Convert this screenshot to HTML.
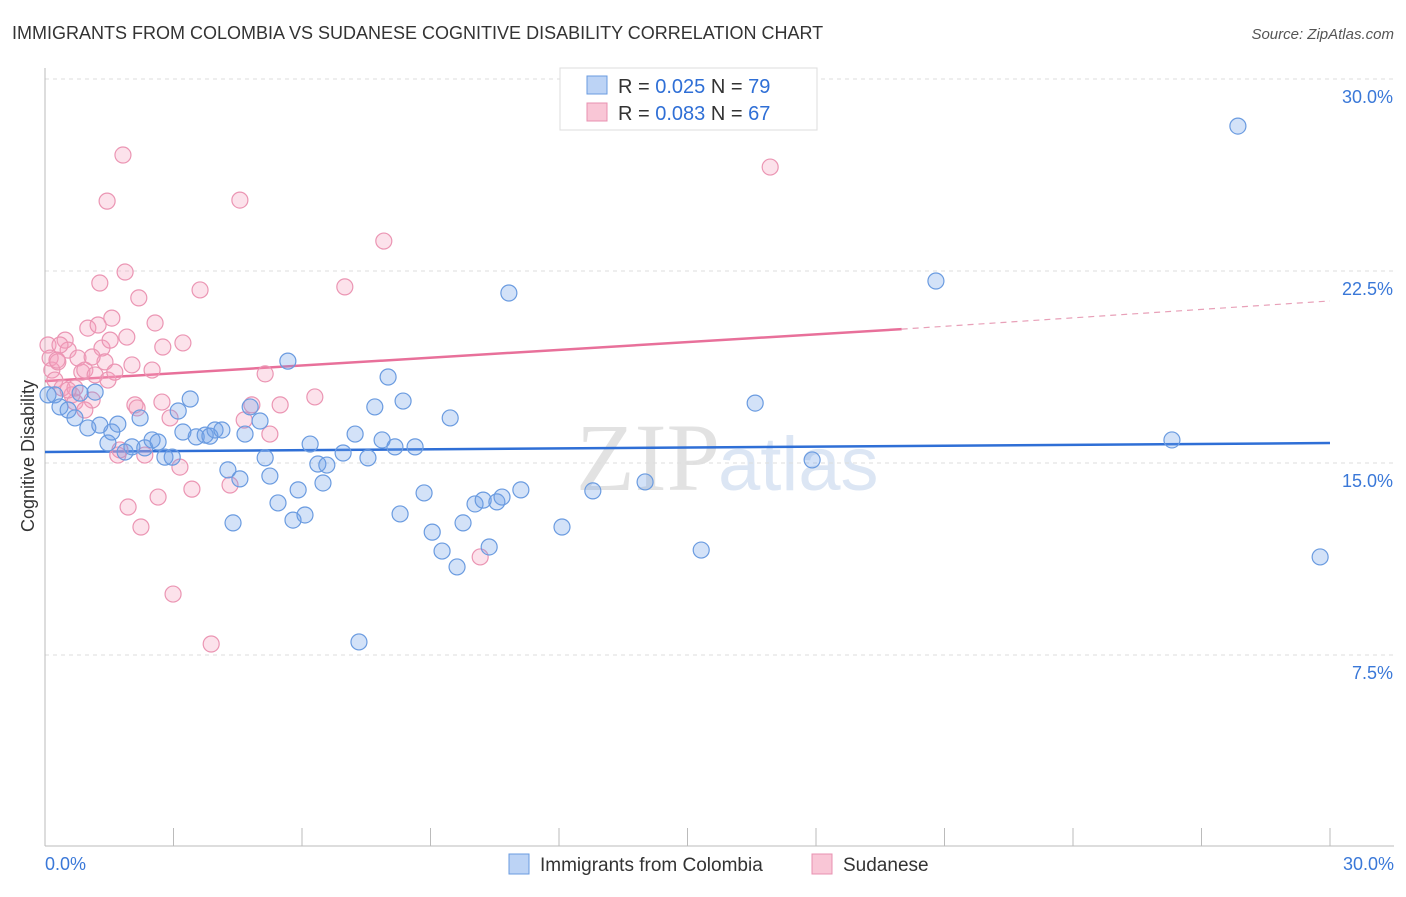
<!DOCTYPE html>
<html><head><meta charset="utf-8"><style>
body{margin:0;background:#fff;font-family:"Liberation Sans",sans-serif;}
</style></head><body>
<svg width="1406" height="892" xmlns="http://www.w3.org/2000/svg" id="chart">
<text x="12" y="39" font-size="18" fill="#333">IMMIGRANTS FROM COLOMBIA VS SUDANESE COGNITIVE DISABILITY CORRELATION CHART</text>
<text x="1394" y="39" font-size="15" fill="#555" font-style="italic" text-anchor="end">Source: ZipAtlas.com</text>
<text x="720" y="490" font-size="96" fill="#e2e2e2" text-anchor="end" font-family="Liberation Serif">ZIP</text>
<text x="718" y="490" font-size="76" fill="#dce6f4">atlas</text>
<g id="grid"></g><g id="axes"></g><g id="lines"></g><g id="pts"></g>
<text transform="translate(34,456) rotate(-90)" font-size="18" fill="#333" text-anchor="middle">Cognitive Disability</text>
<g>
<rect x="560" y="68" width="257" height="62" fill="#fff" stroke="#ddd"/>
<rect x="587" y="76" width="20" height="18" fill="#bcd3f5" stroke="#6a9be0"/>
<rect x="587" y="103" width="20" height="18" fill="#f9c6d6" stroke="#e890b0"/>
<text x="618" y="93" font-size="20" fill="#333">R = <tspan fill="#2f6fd6">0.025</tspan>   N = <tspan fill="#2f6fd6">79</tspan></text>
<text x="618" y="120" font-size="20" fill="#333">R = <tspan fill="#2f6fd6">0.083</tspan>   N = <tspan fill="#2f6fd6">67</tspan></text>
</g>
<g>
<rect x="509" y="854" width="20" height="20" fill="#bcd3f5" stroke="#6a9be0"/>
<text x="540" y="871" font-size="19" fill="#333">Immigrants from Colombia</text>
<rect x="812" y="854" width="20" height="20" fill="#f9c6d6" stroke="#e890b0"/>
<text x="843" y="871" font-size="19" fill="#333">Sudanese</text>
</g>
</svg>
<script>
const yTicks=[7.5,15,22.5,30];
const yTickLabels=["7.5%","15.0%","22.5%","30.0%"];
const xTickLabels=["0.0%","30.0%"];
const blueTrend=[15.43,15.78];
const pinkTrend=[18.2,20.23,21.33];
const bluePx=[[55,395],[60,407],[68,410],[75,418],[88,428],[95,392],[100,425],[108,443],[112,432],[118,424],[125,452],[132,447],[140,418],[145,448],[152,440],[158,442],[165,457],[172,457],[178,411],[183,432],[190,399],[196,437],[205,435],[210,436],[215,430],[222,430],[228,470],[233,523],[240,479],[245,434],[250,407],[260,421],[265,458],[270,476],[278,503],[288,361],[293,520],[298,490],[305,515],[310,444],[318,464],[323,483],[327,465],[343,453],[355,434],[368,458],[375,407],[382,440],[388,377],[395,447],[400,514],[403,401],[415,447],[424,493],[432,532],[442,551],[450,418],[457,567],[463,523],[475,504],[483,500],[489,547],[497,502],[502,497],[509,293],[521,490],[562,527],[593,491],[645,482],[701,550],[755,403],[812,460],[936,281],[1172,440],[1238,126],[1320,557],[359,642],[48,395],[80,393]];
const pinkPx=[[48,345],[50,358],[52,370],[55,380],[58,362],[62,388],[65,340],[68,350],[72,395],[75,402],[78,358],[82,372],[85,370],[88,328],[92,400],[95,375],[98,325],[100,283],[102,348],[105,362],[108,380],[110,340],[112,318],[115,372],[118,455],[120,450],[123,155],[125,272],[127,337],[128,507],[132,365],[135,405],[137,408],[139,298],[141,527],[145,455],[152,370],[155,323],[158,497],[162,402],[163,347],[170,418],[173,594],[180,467],[183,343],[192,489],[200,290],[211,644],[230,485],[240,200],[244,420],[252,405],[265,374],[270,434],[280,405],[315,397],[345,287],[384,241],[480,557],[770,167],[107,201],[60,345],[75,388],[92,357],[68,390],[85,410],[57,360]];
// data values (percent) derived from the picture
const blueX=bluePx.map(p=>+((p[0]-45)/42.833).toFixed(2));
const blueY=bluePx.map(p=>+((847-p[1])/25.6).toFixed(2));
const pinkX=pinkPx.map(p=>+((p[0]-45)/42.833).toFixed(2));
const pinkY=pinkPx.map(p=>+((847-p[1])/25.6).toFixed(2));
const X=v=>45+v*42.833, Y=v=>847-v*25.6;
const NS="http://www.w3.org/2000/svg";
function mk(t,a,parent){const e=document.createElementNS(NS,t);for(const k in a)e.setAttribute(k,a[k]);document.getElementById(parent).appendChild(e);return e;}
yTicks.forEach((t,i)=>{
 const l=mk("line",{x1:45,x2:1394,y1:Y(t),y2:Y(t),stroke:"#ddd","stroke-dasharray":"4,4"},"grid");
 
 
 const tx=mk("text",{x:1393,y:Y(t)+24,"font-size":18,fill:"#3a78d8","text-anchor":"end"},"grid");
 tx.textContent=yTickLabels[i];
 
 
});
const ax=mk("line",{x1:45,x2:45,y1:68,y2:846,stroke:"#bbb"},"axes");


const bx=mk("line",{x1:45,x2:1394,y1:846,y2:846,stroke:"#bbb"},"axes");


for(let i=1;i<=10;i++){const v=i*3;const t=mk("line",{x1:X(v),x2:X(v),y1:828,y2:846,stroke:"#bbb"},"axes");
 
 }
[[0,"start"],[30,"end"]].forEach((d,i)=>{const t=mk("text",{x:i?1394:45,y:870,"font-size":18,fill:"#3a78d8","text-anchor":d[1]},"axes");t.textContent=xTickLabels[i];
 
 });
const bl=mk("line",{x1:X(0),y1:Y(blueTrend[0]),x2:X(30),y2:Y(blueTrend[1]),stroke:"#2f6fd6","stroke-width":2.5},"lines");


const pl=mk("line",{x1:X(0),y1:Y(pinkTrend[0]),x2:X(20),y2:Y(pinkTrend[1]),stroke:"#e8709a","stroke-width":2.5},"lines");


const pd=mk("line",{x1:X(20),y1:Y(pinkTrend[1]),x2:X(30),y2:Y(pinkTrend[2]),stroke:"#e8a0b8","stroke-width":1.2,"stroke-dasharray":"6,5"},"lines");


pinkX.forEach((x,i)=>{const c=mk("circle",{cx:X(x),cy:Y(pinkY[i]),r:8,fill:"rgba(244,160,188,0.3)",stroke:"#eb95b3","stroke-width":1.2},"pts");
 
 });
blueX.forEach((x,i)=>{const c=mk("circle",{cx:X(x),cy:Y(blueY[i]),r:8,fill:"rgba(110,160,232,0.3)",stroke:"#6a9be0","stroke-width":1.2},"pts");
 
 });
</script>
</body></html>
